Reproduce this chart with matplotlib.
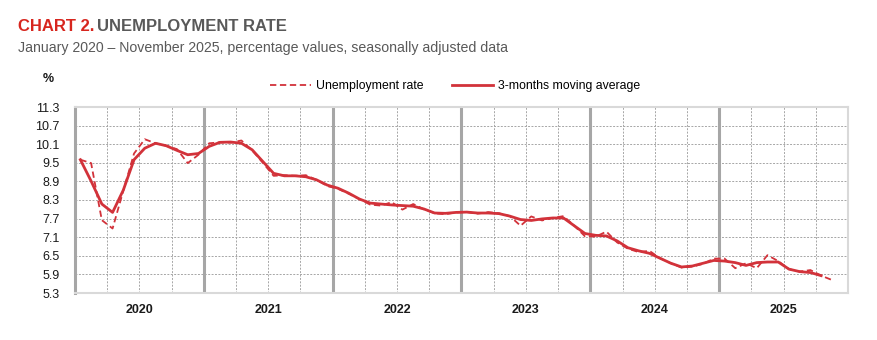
import matplotlib
matplotlib.use("Agg")
import matplotlib.pyplot as plt
import numpy as np
from matplotlib.lines import Line2D

FAM = ['Liberation Sans', 'DejaVu Sans']
plt.rcParams['font.family'] = FAM

years = ['2020', '2021', '2022', '2023', '2024', '2025']

# Monthly unemployment rate, Jan 2020 - Nov 2025
rate = [
    9.60, 9.49, 7.65, 7.38, 8.60, 9.80, 10.26, 10.13, 10.05, 9.94, 9.49, 9.76,   # 2020
    10.13, 10.16, 10.15, 10.22, 9.90, 9.50, 9.08, 9.10, 9.08, 9.10, 8.95, 8.75,  # 2021
    8.66, 8.50, 8.33, 8.15, 8.12, 8.23, 7.99, 8.17, 8.00, 7.87, 7.84, 7.90,      # 2022
    7.91, 7.86, 7.91, 7.87, 7.78, 7.47, 7.77, 7.64, 7.72, 7.78, 7.47, 7.13,      # 2023
    7.12, 7.28, 6.93, 6.73, 6.62, 6.66, 6.42, 6.26, 6.12, 6.15, 6.24, 6.41,      # 2024
    6.41, 6.10, 6.26, 6.10, 6.52, 6.33, 6.07, 5.99, 6.04, 5.86, 5.72,            # 2025
]

# 3-months moving average, Jan 2020 - Oct 2025
mavg = [
    9.60, 8.91, 8.17, 7.90, 8.62, 9.60, 9.97, 10.13, 10.05, 9.90, 9.76, 9.80,    # 2020
    10.03, 10.16, 10.17, 10.13, 9.92, 9.54, 9.16, 9.08, 9.08, 9.05, 8.95, 8.78,  # 2021
    8.68, 8.52, 8.33, 8.20, 8.17, 8.14, 8.12, 8.10, 8.01, 7.88, 7.87, 7.90,      # 2022
    7.91, 7.88, 7.88, 7.86, 7.78, 7.67, 7.64, 7.69, 7.72, 7.72, 7.47, 7.22,      # 2023
    7.16, 7.14, 6.98, 6.76, 6.66, 6.58, 6.42, 6.26, 6.14, 6.17, 6.26, 6.35,      # 2024
    6.33, 6.28, 6.19, 6.28, 6.30, 6.30, 6.07, 5.99, 5.96, 5.86,                  # 2025
]

yticks = [5.3, 5.9, 6.5, 7.1, 7.7, 8.3, 8.9, 9.5, 10.1, 10.7, 11.3]

RED = '#d2323a'
GRID = '#a6a6a6'
TXT = '#1a1a1a'

fig = plt.figure(figsize=(8.78, 3.40), dpi=100)
ax = fig.add_axes([75/878, 1-293/340, 773/878, 186/340])

x_rate = np.arange(len(rate))
x_mavg = np.arange(len(mavg))

nmonths = 12 * len(years)
ax.set_xlim(-0.5, nmonths - 0.5)
ax.set_ylim(yticks[0], yticks[-1])

# gridlines
for y in yticks[1:-1]:
    ax.axhline(y, color=GRID, lw=0.7, ls=(0, (2, 1.5)), zorder=1)
for q in range(1, 4 * len(years)):
    xq = q * 3 - 0.5
    if q % 4 == 0:
        ax.axvline(xq, color='#a6a6a6', lw=2.2, zorder=1)
    else:
        ax.axvline(xq, color=GRID, lw=0.7, ls=(0, (2, 1.5)), zorder=1)

ax.plot(x_rate, rate, color=RED, lw=1.3, ls=(0, (3.5, 2)), zorder=3)
ax.plot(x_mavg, mavg, color=RED, lw=2.0, zorder=4, solid_joinstyle='round')

for s in ['top', 'right', 'bottom']:
    ax.spines[s].set_color('#d9d9d9')
    ax.spines[s].set_linewidth(1.5)
ax.spines['left'].set_color('#a6a6a6')
ax.spines['left'].set_linewidth(2.2)

ax.set_yticks(yticks)
ax.set_yticklabels([f'{v:.1f}' for v in yticks], fontsize=9, color=TXT)
ax.set_xticks([12 * i + 5.5 for i in range(len(years))])
ax.set_xticklabels(years, fontsize=9, fontweight='bold', color=TXT)
ax.tick_params(axis='y', length=0, pad=11)
ax.tick_params(axis='x', length=0, pad=8)

# title
t1 = fig.text(18/878, 1-31/340, 'CHART 2.', fontsize=12, fontweight='bold',
              color='#d7261e', ha='left', va='baseline')
fig.canvas.draw()
bb = t1.get_window_extent()
fig.text((bb.x1 + 3)/878, 1-31/340, 'UNEMPLOYMENT RATE', fontsize=12, fontweight='bold',
         color='#595959', ha='left', va='baseline')
fig.text(18/878, 1-52/340, 'January 2020 \u2013 November 2025, percentage values, seasonally adjusted data',
         fontsize=10.2, color='#595959', ha='left', va='baseline')
fig.text(48/878, 1-79/340, '%', fontsize=9, fontweight='bold', color=TXT,
         ha='center', va='center')

handles = [Line2D([], [], color=RED, lw=1.3, ls=(0, (3.5, 2))),
           Line2D([], [], color=RED, lw=2.0)]
fig.legend(handles, ['Unemployment rate', '3-months moving average'],
           loc='center', bbox_to_anchor=(455/878, 1-86/340), ncol=2, frameon=False,
           fontsize=8.8, handlelength=3.4, handletextpad=0.4, columnspacing=2.3)

fig.savefig('out.png', dpi=100)
